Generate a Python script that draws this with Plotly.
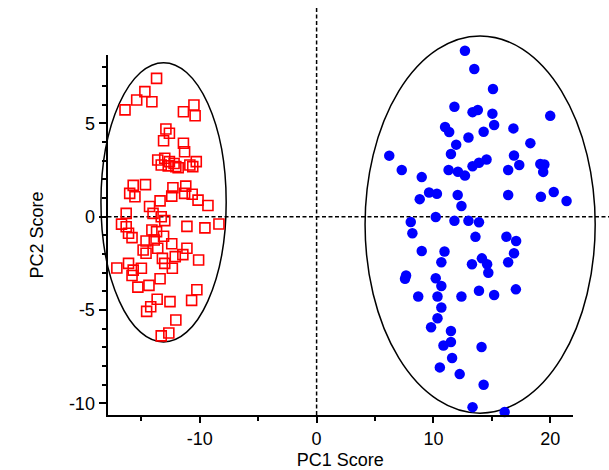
import plotly.graph_objects as go

# ---- data ----
red_x = [-13.7, -14.7, -15.4, -14.1, -16.4, -11.4, -10.5, -10.4, -12.9, -12.6, -13.1, -11.4, -11.3,
         -13.6, -13.0, -12.6, -13.3, -12.7, -12.05, -10.85, -10.3, -10.6, -12.2, -11.85,
         -15.7, -16.0, -14.65, -15.55, -14.3, -13.4, -12.3, -12.4, -11.2, -11.3, -10.65, -10.15, -9.3,
         -16.3, -16.7, -16.3, -16.1, -15.8, -14.0, -13.3, -13.0, -14.1, -13.7, -11.1, -9.56, -8.36,
         -14.6, -14.85, -14.6, -13.6, -12.4, -11.1, -11.45, -12.1, -13.2, -13.0, -10.1,
         -17.1, -16.1, -15.7, -15.0, -15.8, -13.4, -12.35, -15.3, -14.35, -10.25, -10.7,
         -13.65, -12.55, -14.2, -14.55, -12.05, -12.65, -13.3, -13.9, -13.1]
red_y = [7.41, 6.70, 6.25, 6.16, 5.72, 5.62, 5.98, 5.41, 4.70, 4.47, 4.07, 3.93, 3.48,
         3.04, 3.13, 2.95, 2.77, 2.72, 2.68, 2.77, 2.95, 2.68, 2.85, 2.62,
         1.68, 1.25, 1.72, 1.07, 0.55, 0.85, 1.55, 1.10, 1.64, 1.25, 1.20, 0.89, 0.60,
         0.18, -0.40, -0.54, -0.89, -1.12, 0.18, 0.0, -0.21, -0.71, -0.80, -0.52, -0.60, -0.39,
         -1.30, -1.78, -1.96, -1.69, -1.45, -1.69, -2.03, -2.14, -2.23, -2.50, -2.32,
         -2.75, -2.50, -2.86, -2.76, -3.15, -3.32, -2.76, -3.77, -3.68, -3.91, -4.48,
         -4.42, -4.55, -4.82, -5.07, -5.53, -6.23, -6.38, -1.25, -1.05]

blue_x = [12.7, 13.5, 15.1, 11.8, 13.35, 13.8, 15.05, 20.0, 11.0, 11.35, 15.2, 14.3, 13.0, 16.85,
          11.95, 18.3, 6.22, 11.5, 16.9, 17.35, 7.29, 9.0, 11.3, 12.1, 12.7, 13.35, 13.9, 14.55,
          16.4, 19.15, 19.5, 19.4, 8.83, 9.63, 10.3, 12.08, 12.4, 16.4, 19.2, 20.3, 21.4,
          8.06, 10.2, 11.8, 13.0, 13.9, 8.2, 13.6, 16.25, 17.08, 9.0, 10.95, 10.68, 16.9, 16.4,
          14.15, 14.6, 13.3, 14.7, 7.66, 7.57, 10.2, 10.68, 8.7, 10.35, 12.4, 13.9, 15.2, 17.06,
          10.68, 10.35, 9.8, 11.5, 11.5, 10.86, 14.12, 11.6, 10.55, 12.25, 14.3, 13.35, 16.1]
blue_y = [8.89, 7.91, 6.84, 5.89, 5.60, 5.71, 5.52, 5.40, 4.80, 4.54, 4.91, 4.55, 4.24, 4.73,
          3.86, 3.94, 3.27, 3.36, 3.28, 2.77, 2.50, 2.12, 2.50, 2.41, 2.20, 2.70, 2.89, 3.06,
          2.50, 2.82, 2.80, 2.40, 0.94, 1.30, 1.23, 1.16, 0.57, 1.16, 1.07, 1.32, 0.84,
          -0.28, -0.02, -0.22, -0.22, -0.30, -0.89, -1.08, -1.07, -1.30, -1.84, -1.86, -2.44, -1.96, -2.44,
          -2.23, -2.55, -2.55, -3.0, -3.15, -3.32, -3.30, -3.71, -4.27, -4.27, -4.27, -3.97, -4.19, -3.89,
          -4.86, -5.44, -5.92, -6.12, -6.71, -6.90, -6.98, -7.57, -8.07, -8.43, -9.0, -10.2, -10.46]

# confidence ellipses: centre and semi-axes (PC1, PC2)
ell_cx = [-13.1, 14.0]
ell_cy = [0.77, -0.42]
ell_rx = [5.36, 9.85]
ell_ry = [7.48, 10.1]

x_tickvals = [-10, 0, 10, 20]
x_ticktext = ["-10", "0", "10", "20"]
x_minorvals = [-15, -5, 5, 15]
y_tickvals = [-10, -5, 0, 5]
y_ticktext = ["-10", "-5", "0", "5"]
y_minorvals = [-9, -8, -7, -6, -4, -3, -2, -1, 1, 2, 3, 4, 6, 7, 8]

x_range = [-17.9, 21.95]
y_range = [-10.62, 8.66]

# ---- layout geometry ----
W, H = 609, 470
x_dom = [107.5 / W, 573 / W]
y_dom = [(H - 415) / H, (H - 55) / H]


def extend(rng, dom):
    s = (rng[1] - rng[0]) / (dom[1] - dom[0])
    return [rng[0] - dom[0] * s, rng[1] + (1 - dom[1]) * s]


FONT = "Liberation Sans, Arial, Helvetica, sans-serif"

fig = go.Figure()
# empty trace so the frame subplot (x2, y2) is drawn
fig.add_trace(go.Scatter(x=[None], y=[None], mode="markers", xaxis="x2", yaxis="y2",
                         showlegend=False, hoverinfo="skip"))
fig.add_trace(go.Scatter(x=red_x, y=red_y, mode="markers", xaxis="x", yaxis="y",
                         marker=dict(symbol="square-open", size=10, color="#ff0000",
                                     line=dict(width=1.6, color="#ff0000")),
                         showlegend=False, hoverinfo="skip"))
fig.add_trace(go.Scatter(x=blue_x, y=blue_y, mode="markers", xaxis="x", yaxis="y",
                         marker=dict(symbol="circle", size=10.5, color="#0000ff",
                                     line=dict(width=0)),
                         showlegend=False, hoverinfo="skip"))

shapes = []
for cx, cy, rx, ry in zip(ell_cx, ell_cy, ell_rx, ell_ry):
    shapes.append(dict(type="circle", xref="x", yref="y",
                       x0=cx - rx, x1=cx + rx, y0=cy - ry, y1=cy + ry,
                       line=dict(color="black", width=1.5), layer="below"))
# reference lines at PC1 = 0 and PC2 = 0
shapes.append(dict(type="line", xref="x", yref="paper", x0=0, x1=0,
                   y0=y_dom[0], y1=(H - 6) / H,
                   line=dict(color="black", width=1.5, dash="4px,2.5px"), layer="below"))
shapes.append(dict(type="line", xref="paper", yref="y", x0=x_dom[0], x1=1.0,
                   y0=0, y1=0,
                   line=dict(color="black", width=1.5, dash="4px,2.5px"), layer="below"))

fig.update_layout(
    width=W, height=H, autosize=False,
    margin=dict(l=0, r=0, t=0, b=0, pad=0),
    paper_bgcolor="white", plot_bgcolor="rgba(0,0,0,0)",
    font=dict(family=FONT, size=18, color="black"),
    shapes=shapes,
    xaxis=dict(domain=[0, 1], range=extend(x_range, x_dom), visible=False, anchor="y"),
    yaxis=dict(domain=[0, 1], range=extend(y_range, y_dom), visible=False, anchor="x"),
    xaxis2=dict(domain=x_dom, range=x_range, anchor="y2",
                showline=True, linecolor="black", linewidth=2,
                showgrid=False, zeroline=False,
                ticks="outside", ticklen=6, tickwidth=1.5, tickcolor="black",
                tickmode="array", tickvals=x_tickvals, ticktext=x_ticktext,
                minor=dict(tickvals=x_minorvals, ticks="outside", ticklen=4,
                           tickwidth=1.5, tickcolor="black", showgrid=False),
                tickfont=dict(family=FONT, size=18),
                title=dict(text="PC1 Score", font=dict(family=FONT, size=18), standoff=6)),
    yaxis2=dict(domain=y_dom, range=y_range, anchor="x2",
                showline=True, linecolor="black", linewidth=2,
                showgrid=False, zeroline=False,
                ticks="outside", ticklen=7, tickwidth=1.5, tickcolor="black",
                tickmode="array", tickvals=y_tickvals, ticktext=y_ticktext,
                minor=dict(tickvals=y_minorvals, ticks="outside", ticklen=4,
                           tickwidth=1.5, tickcolor="black", showgrid=False),
                tickfont=dict(family=FONT, size=18),
                title=dict(text="PC2 Score", font=dict(family=FONT, size=18), standoff=21)),
)

fig.write_html("out.html", config={"displayModeBar": False},
               post_script="document.body.style.margin='0px';")
